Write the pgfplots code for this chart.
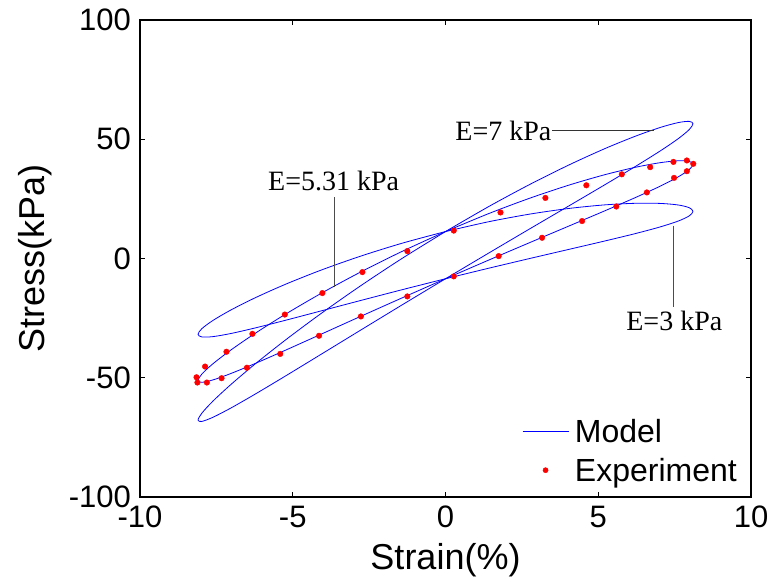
\documentclass[border=0pt]{standalone}
\usepackage{fontspec}
\setmainfont{Liberation Sans}
\newfontfamily\timesfont{Liberation Serif}
\usepackage{pgfplots}
\pgfplotsset{compat=1.18}
\begin{document}
\begin{tikzpicture}
\begin{axis}[
  name=ax,
  scale only axis,
  width=611pt, height=477pt,
  xmin=-10, xmax=10, ymin=-100, ymax=100,
  xtick={-10,-5,0,5,10}, ytick={-100,-50,0,50,100},
  tick align=inside, tick pos=both, major tick length=5pt,
  axis line style={line width=1.1pt},
  tick style={line width=0.8pt, black},
  /pgf/number format/assume math mode=true,
  tick label style={font=\fontsize{31}{37}\selectfont},
  xticklabel style={inner sep=0pt, yshift=-9pt},
  yticklabel style={inner sep=0pt, xshift=-9pt},
  xlabel={Strain(\%)}, ylabel={Stress(kPa)},
  label style={font=\fontsize{36}{43}\selectfont},
  x label style={at={(axis description cs:0.5,-0.132)}, anchor=center, inner sep=0pt},
  y label style={at={(axis description cs:-0.172,0.5)}, anchor=center, inner sep=0pt},
  legend style={draw=none, fill=none, at={(1,0)}, anchor=south east,
    font=\fontsize{32}{38}\selectfont,
    nodes={inner sep=0pt, text depth=7pt, text height=23pt},
    column sep=6pt, row sep=8.5pt, inner xsep=14pt, inner ysep=8.6pt},
  legend cell align=left,
]
% Model E = 5.31 kPa
\addplot[blue, line width=0.8pt, smooth,
  legend image code/.code={\draw[blue, line width=0.8pt] (0pt,3pt) -- (46pt,3pt);}]
  coordinates {
(0,11.30) (-1.406,3.07) (-2.770,-5.62) (-4.050,-14.47) (-5.207,-23.11) (-6.205,-31.16)
(-7.015,-38.27) (-7.612,-44.13) (-7.977,-48.47) (-8.100,-51.10) (-7.977,-51.91) (-7.612,-50.91)
(-7.015,-48.17) (-6.205,-43.88) (-5.207,-38.27) (-4.050,-31.61) (-2.770,-24.22) (-1.406,-16.43)
(0,-8.50) (1.406,-0.71) (2.770,6.74) (4.050,13.67) (5.207,19.95) (6.205,25.49)
(7.015,30.25) (7.612,34.19) (7.977,37.27) (8.100,39.46) (7.977,40.71) (7.612,40.97)
(7.015,40.15) (6.205,38.21) (5.207,35.11) (4.050,30.81) (2.770,25.34) (1.406,18.79) (0,11.30)
};
\addlegendentry{Model}
% Model E = 7 kPa
\addplot[blue, line width=0.8pt, smooth, forget plot] coordinates {
(0,11.30) (-1.406,0.16) (-2.770,-11.37) (-4.050,-22.85) (-5.207,-33.86) (-6.205,-43.95)
(-7.015,-52.72) (-7.612,-59.79) (-7.977,-64.87) (-8.100,-67.75) (-7.977,-68.31) (-7.612,-66.57)
(-7.015,-62.62) (-6.205,-56.67) (-5.207,-49.02) (-4.050,-39.99) (-2.770,-29.97) (-1.406,-19.34)
(0,-8.50) (1.406,2.22) (2.770,12.53) (4.050,22.14) (5.207,30.86) (6.205,38.51)
(7.015,44.99) (7.612,50.19) (7.977,54.05) (8.100,56.51) (7.977,57.49) (7.612,56.97)
(7.015,54.89) (6.205,51.23) (5.207,46.02) (4.050,39.28) (2.770,31.13) (1.406,21.72) (0,11.30)
};
% Model E = 3 kPa
\addplot[blue, line width=0.8pt, smooth, forget plot] coordinates {
(0,11.30) (-1.406,6.46) (-2.770,1.02) (-4.050,-4.76) (-5.207,-10.64) (-6.205,-16.32)
(-7.015,-21.52) (-7.612,-25.97) (-7.977,-29.44) (-8.100,-31.77) (-7.977,-32.88) (-7.612,-32.75)
(-7.015,-31.42) (-6.205,-29.04) (-5.207,-25.80) (-4.050,-21.90) (-2.770,-17.58) (-1.406,-13.04)
(0,-8.50) (1.406,-4.10) (2.770,0.04) (4.050,3.86) (5.207,7.32) (6.205,10.42)
(7.015,13.20) (7.612,15.67) (7.977,17.86) (8.100,19.75) (7.977,21.30) (7.612,22.45)
(7.015,23.10) (6.205,23.14) (5.207,22.48) (4.050,21.00) (2.770,18.64) (1.406,15.40) (0,11.30)
};
% Experiment
\addplot[only marks, mark=*, mark size=2.8pt, red, mark options={draw=none, fill=red},
  legend image code/.code={\fill[red] (23pt,3pt) circle (2.6pt);}]
  coordinates {
(8.11,39.7) (7.90,36.6) (7.48,33.8) (6.59,27.7) (5.59,21.8) (4.47,15.7) (3.16,8.7)
(1.74,1.0) (0.27,-7.5) (-1.25,-15.9) (-2.77,-24.3) (-4.14,-32.4) (-5.41,-40.0)
(-6.50,-45.8) (-7.33,-50.2) (-7.81,-52.0) (-8.12,-52.0) (-8.15,-49.8) (-7.87,-45.3)
(-7.17,-39.1) (-6.32,-31.6) (-5.26,-23.5) (-4.03,-14.5) (-2.72,-5.7) (-1.25,3.1)
(0.27,11.7) (1.80,19.3) (3.27,25.4) (4.61,30.7) (5.77,35.3) (6.70,38.3) (7.46,40.5) (7.90,41.1)
};
\addlegendentry{Experiment}
% annotation leader lines
\addplot[black!80, line width=0.8pt, forget plot] coordinates {(3.49,53.7) (6.81,53.7)};
\addplot[black!70, line width=0.8pt, forget plot] coordinates {(-3.65,25.7) (-3.65,-12.0)};
\addplot[black!70, line width=0.8pt, forget plot] coordinates {(7.46,13.8) (7.46,-20.4)};
\node[anchor=east, inner sep=0pt, font=\timesfont\fontsize{28}{33}\selectfont] at (axis cs:3.47,53.5) {E=7 kPa};
\node[inner sep=0pt, font=\timesfont\fontsize{28}{33}\selectfont] at (axis cs:-3.66,32.3) {E=5.31 kPa};
\node[inner sep=0pt, font=\timesfont\fontsize{28}{33}\selectfont] at (axis cs:7.49,-26.0) {E=3 kPa};
\end{axis}
\path ([shift={(-140pt,-84pt)}]ax.south west) rectangle ([shift={(24pt,20pt)}]ax.north east);
\end{tikzpicture}
\end{document}
